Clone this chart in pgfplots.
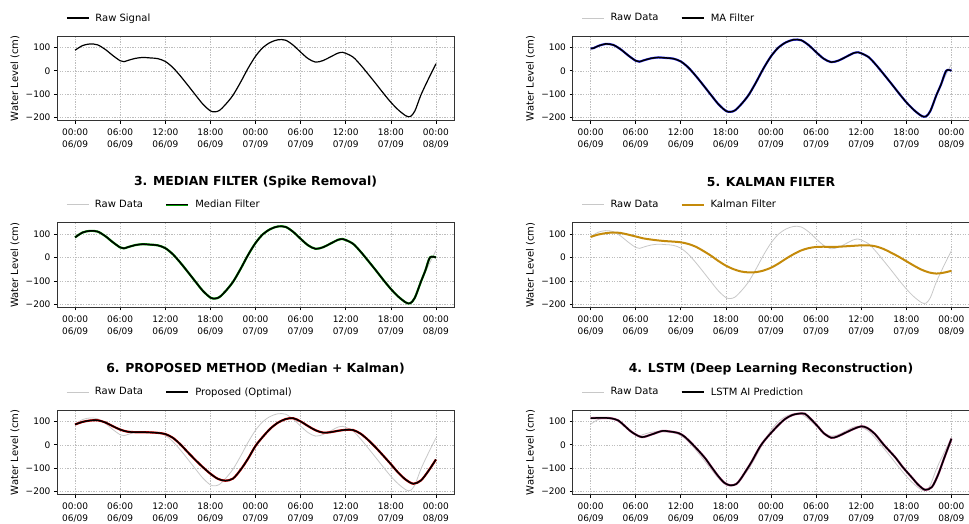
\documentclass[border=0pt]{standalone}
\usepackage{fontspec}
\setmainfont{DejaVu Sans}
\usepackage{pgfplots}
\usepackage{pgfplotstable}
\pgfplotsset{compat=1.18}

\pgfplotstableread{
h v
0 88
1 108
2 115
3 111
4 92
5 66
6 43
6.5 39
7 44
8 53
9 57
10 55
11 52
12 40
13 14
14 -22
15 -62
16 -103
17 -143
18 -172
18.6 -176
19.2 -170
20 -145
21 -105
22 -50
23 10
24 62
25 100
26 122
27 133
28 131
29 110
30 80
31 52
32 37
33 44
34 60
35 76
35.6 79
36 75
37 58
38 24
39 -15
40 -55
41 -96
42 -135
43 -168
44 -193
44.6 -196
45.2 -172
46 -104
47 -35
48 30
}\rawdata

\pgfplotstableread{
h v
0 96
0.4 97
1 106
2 115
3 111
4 92
5 66
6 43
6.5 39
7 44
8 53
9 57
10 55
11 52
12 40
13 14
14 -22
15 -62
16 -103
17 -143
18 -172
18.6 -176
19.2 -170
20 -145
21 -105
22 -50
23 10
24 62
25 100
26 122
27 133
28 131
29 110
30 80
31 52
32 37
33 44
34 60
35 76
35.6 79
36 75
37 58
38 24
39 -15
40 -55
41 -96
42 -135
43 -168
44 -193
44.6 -196
45.2 -172
46 -104
46.6 -60
47.3 0
48 0
}\madata

\pgfplotstableread{
h v
0 86
1 107
2 114
3 111
4 92
5 66
6 43
6.5 39
7 44
8 53
9 57
10 55
11 52
12 40
13 14
14 -22
15 -62
16 -103
17 -143
18 -172
18.6 -176
19.2 -170
20 -145
21 -105
22 -50
23 10
24 62
25 100
26 122
27 133
28 131
29 110
30 80
31 52
32 37
33 44
34 60
35 76
35.6 79
36 75
37 58
38 24
39 -15
40 -55
41 -96
42 -135
43 -168
44 -193
44.6 -196
45.2 -172
46 -104
46.6 -55
47.2 0
48 0
}\meddata

\pgfplotstableread{
h v
0 88
1 98
2 104
3 107
4 105
5 98
6 90
7 82
8 77
9 73
10 70
11 68
12 65
13 58
14 46
15 28
16 8
17 -15
18 -35
19 -50
20 -60
21 -64
22 -63
23 -56
24 -44
25 -26
26 -5
27 14
28 30
29 40
30 45
31 46
32 45
33 46
34 48
35 50
36 52
37 52
38 47
39 36
40 20
41 3
42 -16
43 -35
44 -52
45 -64
46 -69
47 -65
48 -57
}\kaldata

\pgfplotstableread{
h v
0 87
1 98
2 104
3 105
4 96
5 80
6 65
7 56
8 54
9 54
10 53
11 51
12 46
13 30
14 2
15 -32
16 -65
17 -96
18 -124
19 -146
20 -154
21 -145
22 -108
23 -60
24 -5
25 35
26 70
27 95
28 110
29 114
30 100
31 80
32 62
33 52
34 54
35 60
36 64
37 63
38 47
39 20
40 -12
41 -47
42 -83
43 -120
44 -150
45 -167
46 -153
47 -112
48 -63
}\propdata

\pgfplotstableread{
h v
0 114
1 115
2 115
2.8 113
3.7 104
4.5 82
5.5 54
6.8 33
8.1 44
9.5 59
10.5 57
11.7 50
12.5 35
13.5 4
14.5 -30
15.3 -60
16.1 -96
17 -135
17.8 -163
18.6 -174
19.4 -168
20 -145
20.7 -110
21.4 -74
22.5 -10
23.3 25
24.1 54
25 85
25.9 111
26.8 127
27.6 133
28.5 133
29.3 110
30.3 76
31 50
32 30
32.8 35
33.8 50
35 68
36 79
36.8 72
37.8 47
39 0
40.5 -53
41.5 -95
42.7 -139
43.6 -172
44.5 -193
45.4 -181
46.2 -130
47 -60
48 26
}\lstmdata

\definecolor{kalman}{RGB}{196,138,10}
\definecolor{rawgray}{RGB}{200,200,200}
\definecolor{gridgray}{RGB}{190,190,190}

\pgfplotsset{
  panel/.style={
    scale only axis, width=397pt, height=84.7pt,
    xmin=-2.4, xmax=50.4, ymin=-214, ymax=149,
    xtick={0,6,...,48},
    xticklabels={{00:00\\06/09},{06:00\\06/09},{12:00\\06/09},{18:00\\06/09},{00:00\\07/09},{06:00\\07/09},{12:00\\07/09},{18:00\\07/09},{00:00\\08/09}},
    ytick={-200,-100,0,100},
    yticklabels={−200,−100,0,100},
    tick align=outside, tick pos=left,
    major tick length=3pt,
    every tick/.style={black, line width=0.6pt},
    grid=major,
    major grid style={gridgray, dash pattern=on 1.3pt off 1.3pt, line width=0.5pt},
    axis line style={black!80, line width=0.8pt},
    tick label style={font=\fontsize{9}{12}\selectfont},
    xticklabel style={align=center, yshift=-2pt},
    ylabel={Water Level (cm)},
    every axis y label/.style={at={(axis description cs:0,0.5)}, xshift=-42pt, rotate=90, anchor=center, font=\fontsize{10}{12}\selectfont},
    legend style={at={(0,1)}, anchor=west, xshift=9pt, yshift=18pt, draw=none, fill=none, inner sep=0pt,
      font=\fontsize{10}{12}\selectfont,
      /tikz/every odd column/.append style={column sep=4pt},
      /tikz/every even column/.append style={column sep=20pt}},
    legend columns=2,
    legend image code/.code={\draw[#1] (0pt,0pt) -- (22pt,0pt);},
    title style={at={(0.5,1)}, anchor=center, yshift=35pt, font=\fontsize{12.4}{14}\selectfont\bfseries},
  },
  rawline/.style={rawgray, line width=0.8pt, smooth, no markers},
  filt/.style={black, line width=1.5pt, smooth, no markers, preaction={draw=#1, line width=2.2pt}},
}

\begin{document}
\begin{tikzpicture}
% Row 1 left
\begin{axis}[panel, at={(57pt,-36pt)}, anchor=north west]
\addplot[black, line width=1.2pt, smooth, no markers] table[x=h,y=v] {\rawdata};
\addlegendentry{Raw Signal}
\end{axis}
% Row 1 right
\begin{axis}[panel, at={(572.5pt,-36pt)}, anchor=north west]
\addplot[rawline] table[x=h,y=v] {\rawdata};
\addlegendentry{Raw Data}
\addplot[filt=blue!80] table[x=h,y=v] {\madata};
\addlegendentry{MA Filter}
\end{axis}
% Row 2 left
\begin{axis}[panel, at={(57pt,-222.7pt)}, anchor=north west, title={3. MEDIAN FILTER (Spike Removal)}]
\addplot[rawline] table[x=h,y=v] {\rawdata};
\addlegendentry{Raw Data}
\addplot[filt=green!60!black] table[x=h,y=v] {\meddata};
\addlegendentry{Median Filter}
\end{axis}
% Row 2 right
\begin{axis}[panel, at={(572.5pt,-222.7pt)}, anchor=north west, title={5. KALMAN FILTER}]
\addplot[rawline] table[x=h,y=v] {\rawdata};
\addlegendentry{Raw Data}
\addplot[kalman, line width=2pt, smooth, no markers] table[x=h,y=v] {\kaldata};
\addlegendentry{Kalman Filter}
\end{axis}
% Row 3 left
\begin{axis}[panel, at={(57pt,-410pt)}, anchor=north west, title={6. PROPOSED METHOD (Median + Kalman)}]
\addplot[rawline] table[x=h,y=v] {\rawdata};
\addlegendentry{Raw Data}
\addplot[filt=red!85!black] table[x=h,y=v] {\propdata};
\addlegendentry{Proposed (Optimal)}
\end{axis}
% Row 3 right
\begin{axis}[panel, at={(572.5pt,-410pt)}, anchor=north west, title={4. LSTM (Deep Learning Reconstruction)}]
\addplot[rawline] table[x=h,y=v] {\rawdata};
\addlegendentry{Raw Data}
\addplot[filt=magenta!70!black] table[x=h,y=v] {\lstmdata};
\addlegendentry{LSTM AI Prediction}
\end{axis}
\pgfresetboundingbox
\path[use as bounding box] (0pt,0pt) rectangle (969pt,-524pt);
\end{tikzpicture}
\end{document}
